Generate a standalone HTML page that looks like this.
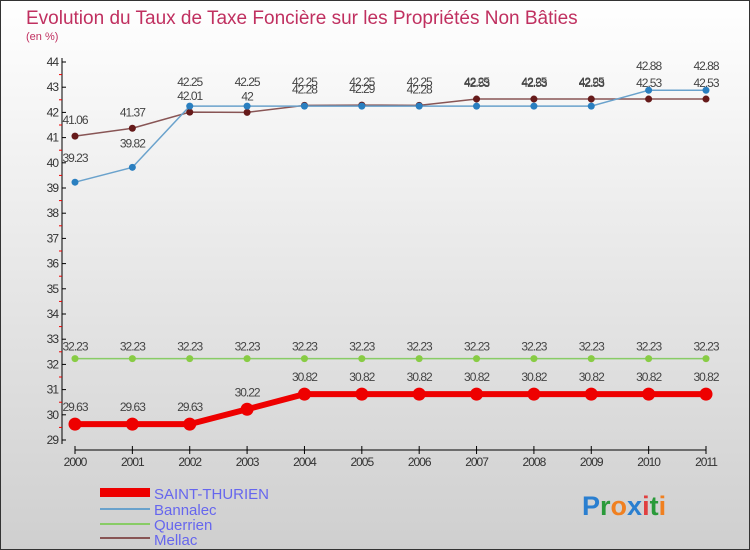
<!DOCTYPE html>
<html><head><meta charset="utf-8"><style>
body{margin:0;width:750px;height:550px;overflow:hidden}
svg{display:block;font-family:"Liberation Sans",sans-serif}
</style></head><body>
<svg width="750" height="550">
<defs><linearGradient id="bg" x1="0" y1="0" x2="0" y2="1"><stop offset="0" stop-color="#ffffff"/><stop offset="1" stop-color="#cfcfcf"/></linearGradient></defs>
<rect x="0.5" y="0.5" width="749" height="549" fill="url(#bg)" stroke="#333"/>
<text x="26" y="24" font-size="19" fill="#c03060">Evolution du Taux de Taxe Foncière sur les Propriétés Non Bâties</text>
<text x="26" y="40" font-size="11" fill="#c03060">(en %)</text>
<g id="axes"></g><g id="series"></g>
<g>
<rect x="100" y="488" width="50" height="9" fill="#e00"/>
<text x="154" y="499" font-size="15" fill="#6666ee">SAINT-THURIEN</text>
<line x1="100" y1="509" x2="150" y2="509" stroke="#6aa2cc" stroke-width="2"/>
<text x="154" y="515" font-size="15" fill="#6666ee">Bannalec</text>
<line x1="100" y1="524" x2="150" y2="524" stroke="#88cc66" stroke-width="2"/>
<text x="154" y="530" font-size="15" fill="#6666ee">Querrien</text>
<line x1="100" y1="538" x2="150" y2="538" stroke="#885555" stroke-width="2"/>
<text x="154" y="545" font-size="15" fill="#6666ee">Mellac</text>
</g>
<g font-size="27" font-weight="bold">
<text x="582" y="515"><tspan fill="#2a7fd0">P</tspan><tspan fill="#2a9a3a">r</tspan><tspan fill="#f08020">o</tspan><tspan fill="#2a7fd0">x</tspan><tspan fill="#e04040">i</tspan><tspan fill="#2a9a3a">t</tspan><tspan fill="#f08020">i</tspan></text>
</g>
</svg>
<script>
const years=["2000","2001","2002","2003","2004","2005","2006","2007","2008","2009","2010","2011"];
const yTicks=[29,30,31,32,33,34,35,36,37,38,39,40,41,42,43,44];
const saintThurien=[29.63,29.63,29.63,30.22,30.82,30.82,30.82,30.82,30.82,30.82,30.82,30.82];
const bannalec=[39.23,39.82,42.25,42.25,42.25,42.25,42.25,42.25,42.25,42.25,42.88,42.88];
const querrien=[32.23,32.23,32.23,32.23,32.23,32.23,32.23,32.23,32.23,32.23,32.23,32.23];
const mellac=[41.06,41.37,42.01,42,42.28,42.29,42.28,42.53,42.53,42.53,42.53,42.53];
const NS="http://www.w3.org/2000/svg";
const xs=i=>75+i*(706-75)/(years.length-1);
const ys=v=>440-(v-29)*(440-62)/15;
function mk(t,a,p){const e=document.createElementNS(NS,t);for(const k in a)e.setAttribute(k,a[k]);p.appendChild(e);return e;}
const ax=document.getElementById('axes');
const yl=mk('line',{x1:62,y1:58,x2:62,y2:444,stroke:'#000'},ax);

const xl=mk('line',{x1:75,y1:450,x2:706,y2:450,stroke:'#000'},ax);

yTicks.forEach(v=>{const y=ys(v);mk('line',{x1:62,y1:y,x2:66,y2:y,stroke:'#000'},ax);
 if(v<44)mk('line',{x1:59,y1:y-12.6,x2:62,y2:y-12.6,stroke:'#e00'},ax);
 const t=mk('text',{x:58,y:y+4,'font-size':12,'text-anchor':'end',fill:'#333','letter-spacing':'-1'},ax);t.textContent=v;
 });
years.forEach((yr,i)=>{const x=xs(i);mk('line',{x1:x,y1:446,x2:x,y2:454,stroke:'#000'},ax);
 const t=mk('text',{x:x,y:466,'font-size':12,'text-anchor':'middle',fill:'#333','letter-spacing':'-1'},ax);t.textContent=yr;
 });
const sg=document.getElementById('series');
function series(name,data,color,w,r,dot,labelDy){
 const g=mk('g',{},sg);
 mk('polyline',{points:data.map((v,i)=>xs(i)+','+ys(v)).join(' '),fill:'none',stroke:color,'stroke-width':w},g);
 data.forEach((v,i)=>{const c=mk('circle',{cx:xs(i),cy:ys(v),r:r,fill:dot},g);
  
  const t=mk('text',{x:xs(i),y:ys(v)+labelDy,'font-size':12,'text-anchor':'middle',fill:'#444','letter-spacing':'-1'},g);
  t.textContent=v.toFixed(2).replace(/\.?0+$/,'');
  });
}
series('querrien',querrien,'#88cc66',1.5,3.5,'#88cc44',-8);
series('mellac',mellac,'#885555',1.5,3.5,'#661a1a',-12);
series('bannalec',bannalec,'#6aa2cc',1.5,3.5,'#2a7fc0',-20);
series('saint-thurien',saintThurien,'#ee0000',6,6.5,'#ee0000',-13);
</script>
</body></html>
